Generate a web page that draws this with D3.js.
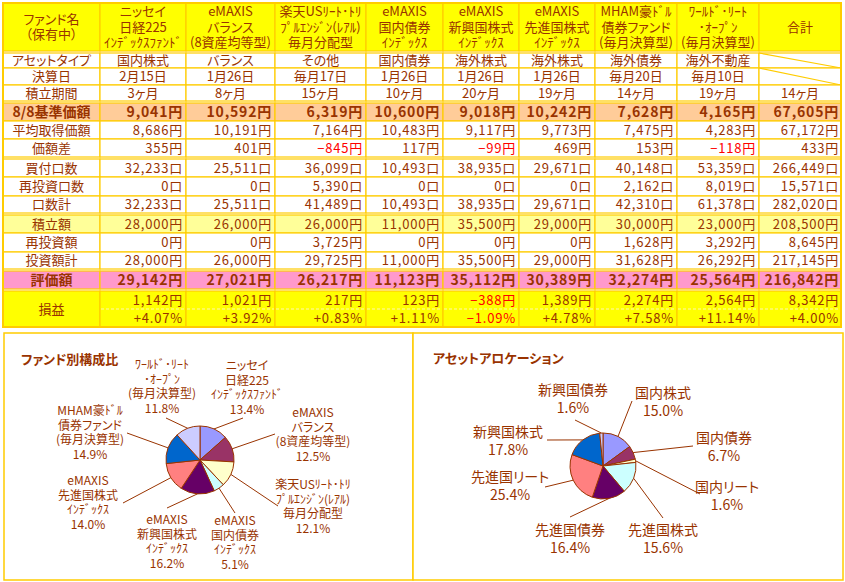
<!DOCTYPE html>
<html>
<head>
<meta charset="utf-8">
<script src="https://cdn.jsdelivr.net/npm/d3@7"></script>
<style>
body { margin: 0; background: #fff; }
svg text { font-family: "Noto Sans CJK JP", "Noto Sans", sans-serif; font-feature-settings: "palt"; fill: #993300; }
</style>
</head>
<body>
<div id="chart"></div>
<script>
// ポートフォリオ集計表 + 構成比パイ2つ

// ---- データ ----
var fundNames = [
  'ニッセイ\n日経225\nｲﾝﾃﾞｯｸｽﾌｧﾝﾄﾞ',
  'eMAXIS\nバランス\n(8資産均等型)',
  '楽天USﾘｰﾄ･ﾄﾘ\nﾌﾟﾙｴﾝｼﾞﾝ(ﾚｱﾙ)\n毎月分配型',
  'eMAXIS\n国内債券\nｲﾝﾃﾞｯｸｽ',
  'eMAXIS\n新興国株式\nｲﾝﾃﾞｯｸｽ',
  'eMAXIS\n先進国株式\nｲﾝﾃﾞｯｸｽ',
  'MHAM豪ﾄﾞﾙ\n債券ファンド\n(毎月決算型)',
  'ﾜｰﾙﾄﾞ･ﾘｰﾄ\n･ｵｰﾌﾟﾝ\n(毎月決算型)'
]
var assetTypes = ['国内株式', 'バランス', 'その他', '国内債券', '海外株式', '海外株式', '海外債券', '海外不動産']
var settleDates = ['2月15日', '1月26日', '毎月17日', '1月26日', '1月26日', '1月26日', '毎月20日', '毎月10日']
var months = [3, 8, 15, 10, 20, 19, 14, 19]
var navPrice = [9041, 10592, 6319, 10600, 9018, 10242, 7628, 4165]
var avgCost = [8686, 10191, 7164, 10483, 9117, 9773, 7475, 4283]
var priceDiff = [355, 401, -845, 117, -99, 469, 153, -118]
var buyUnits = [32233, 25511, 36099, 10493, 38935, 29671, 40148, 53359]
var reinvUnits = [0, 0, 5390, 0, 0, 0, 2162, 8019]
var totalUnits = [32233, 25511, 41489, 10493, 38935, 29671, 42310, 61378]
var contrib = [28000, 26000, 26000, 11000, 35500, 29000, 30000, 23000]
var reinvAmount = [0, 0, 3725, 0, 0, 0, 1628, 3292]
var investTotal = [28000, 26000, 29725, 11000, 35500, 29000, 31628, 26292]
var valuation = [29142, 27021, 26217, 11123, 35112, 30389, 32274, 25564]
var profit = [1142, 1021, 217, 123, -388, 1389, 2274, 2564]
var profitPct = [4.07, 3.92, 0.83, 1.11, -1.09, 4.78, 7.58, 11.14]

// 合計列
var totals = {
  months: 14, navPrice: 67605, avgCost: 67172, priceDiff: 433,
  buyUnits: 266449, reinvUnits: 15571, totalUnits: 282020,
  contrib: 208500, reinvAmount: 8645, investTotal: 217145,
  valuation: 216842, profit: 8342, profitPct: 4.00
}

// アセットアロケーション
var assetClasses = ['国内株式', '国内債券', '国内リート', '先進国株式', '先進国債券', '先進国リート', '新興国株式', '新興国債券']
var assetShare = [15.0, 6.7, 1.6, 15.6, 16.4, 25.4, 17.8, 1.6]

var sliceColors = ['#9999FF', '#993366', '#FFFFCC', '#CCFFFF', '#660066', '#FF8080', '#0066CC', '#CCCCFF']

// ---- レイアウト ----
var width = 845, height = 582
var gold = '#FFCC00'
var colEdges = [3, 100, 186, 275, 366, 443, 519, 595, 677, 759, 841]

var svg = d3.select('#chart').append('svg')
  .attr('width', width)
  .attr('height', height)
svg.append('rect').attr('width', width).attr('height', height).attr('fill', '#fff')

var yen = function(v) { return (v < 0 ? '−' + d3.format(',')(-v) : d3.format(',')(v)) + '円' }
var kuchi = function(v) { return d3.format(',')(v) + '口' }
var pct = function(v) { return (v < 0 ? '−' + d3.format('.2f')(-v) : '+' + d3.format('.2f')(v)) + '%' }

var rows = [
  { y: [53, 68], label: 'アセットタイプ', vals: assetTypes, center: true, diag: true },
  { y: [68, 85], label: '決算日', vals: settleDates, center: true, diag: true },
  { y: [85, 101], label: '積立期間', vals: months.map(function(m) { return m + 'ヶ月' }), total: totals.months + 'ヶ月', center: true },
  { y: [103, 121], label: '8/8基準価額', vals: navPrice.map(yen), total: yen(totals.navPrice), bold: true, bg: '#FFCC99' },
  { y: [121, 139], label: '平均取得価額', vals: avgCost.map(yen), total: yen(totals.avgCost) },
  { y: [139, 157], label: '価額差', vals: priceDiff.map(yen), raw: priceDiff, total: yen(totals.priceDiff) },
  { y: [159, 177], label: '買付口数', vals: buyUnits.map(kuchi), total: kuchi(totals.buyUnits) },
  { y: [177, 196], label: '再投資口数', vals: reinvUnits.map(kuchi), total: kuchi(totals.reinvUnits) },
  { y: [196, 213], label: '口数計', vals: totalUnits.map(kuchi), total: kuchi(totals.totalUnits) },
  { y: [215, 233], label: '積立額', vals: contrib.map(yen), total: yen(totals.contrib), bg: '#FFFF99' },
  { y: [233, 252], label: '再投資額', vals: reinvAmount.map(yen), total: yen(totals.reinvAmount) },
  { y: [252, 269], label: '投資額計', vals: investTotal.map(yen), total: yen(totals.investTotal) },
  { y: [271, 289], label: '評価額', vals: valuation.map(yen), total: yen(totals.valuation), bold: true, bg: '#FF99CC' }
]

var table = svg.append('g').attr('class', 'table')

// ヘッダー
var headY = [3, 51]
var headCells = [['ファンド名', '（保有中）']]
  .concat(fundNames.map(function(n) { return n.split('\n') }))
  .concat([['合計']])

headCells.forEach(function(lines, i) {
  var x0 = colEdges[i], x1 = colEdges[i + 1]
  table.append('rect')
    .attr('x', x0).attr('y', headY[0]).attr('width', x1 - x0).attr('height', headY[1] - headY[0])
    .attr('fill', '#FFFF00').attr('stroke', gold).attr('stroke-width', 1.2)
  var lh = 15.5
  var mid = (headY[0] + headY[1]) / 2
  var t = table.append('text')
    .attr('text-anchor', 'middle')
    .attr('font-size', 13)
  lines.forEach(function(l, k) {
    t.append('tspan')
      .attr('x', (x0 + x1) / 2)
      .attr('y', mid + (k - (lines.length - 1) / 2) * lh + 4.5)
      .text(l)
  })
})

// 本体の行
function cell(x0, x1, y0, y1, bg) {
  table.append('rect')
    .attr('x', x0).attr('y', y0).attr('width', x1 - x0).attr('height', y1 - y0)
    .attr('fill', bg || '#fff').attr('stroke', gold).attr('stroke-width', 1.2)
}

rows.forEach(function(r) {
  var y0 = r.y[0], y1 = r.y[1]
  var base = (y0 + y1) / 2 + (r.bold ? 5 : 4.5)
  var fs = r.bold ? 14 : 13
  var fw = r.bold ? 'bold' : 'normal'
  var ls = r.center ? 0 : 0.8
  cell(colEdges[0], colEdges[1], y0, y1, r.bg)
  table.append('text')
    .attr('x', (colEdges[0] + colEdges[1]) / 2).attr('y', base)
    .attr('text-anchor', 'middle').attr('font-size', fs).attr('font-weight', fw)
    .text(r.label)
  r.vals.forEach(function(v, i) {
    var x0 = colEdges[i + 1], x1 = colEdges[i + 2]
    cell(x0, x1, y0, y1, r.bg)
    table.append('text')
      .attr('x', r.center ? (x0 + x1) / 2 : x1 - 3).attr('y', base)
      .attr('text-anchor', r.center ? 'middle' : 'end')
      .attr('font-size', fs).attr('font-weight', fw)
      .attr('letter-spacing', ls)
      .style('fill', r.raw && r.raw[i] < 0 ? '#FF0000' : null)
      .text(v)
  })
  var tx0 = colEdges[9], tx1 = colEdges[10]
  cell(tx0, tx1, y0, y1, r.bg)
  if (r.diag) {
    table.append('line')
      .attr('x1', tx0).attr('y1', y0).attr('x2', tx1).attr('y2', y1)
      .attr('stroke', gold).attr('stroke-width', 1.2)
  } else {
    table.append('text')
      .attr('x', r.center ? (tx0 + tx1) / 2 : tx1 - 2).attr('y', base)
      .attr('text-anchor', r.center ? 'middle' : 'end')
      .attr('font-size', fs).attr('font-weight', fw)
      .attr('letter-spacing', ls)
      .text(r.total)
  }
})

// 損益（2段）
var plY = [291, 327], plMid = 309
cell(colEdges[0], colEdges[1], plY[0], plY[1], '#FFFF00')
table.append('text')
  .attr('x', (colEdges[0] + colEdges[1]) / 2).attr('y', plMid + 4.5)
  .attr('text-anchor', 'middle').attr('font-size', 13)
  .text('損益')
profit.concat([totals.profit]).forEach(function(v, i) {
  var x0 = colEdges[i + 1], x1 = colEdges[i + 2]
  var p = i < 8 ? profitPct[i] : totals.profitPct
  cell(x0, x1, plY[0], plY[1], '#FFFF00')
  table.append('line')
    .attr('x1', x0 + 1).attr('x2', x1 - 1).attr('y1', plMid).attr('y2', plMid)
    .attr('stroke', '#FFF7B0').attr('stroke-width', 1).attr('stroke-dasharray', '3,2')
  var pad = i < 8 ? 3 : 2
  table.append('text')
    .attr('x', x1 - pad).attr('y', (plY[0] + plMid) / 2 + 4.5)
    .attr('text-anchor', 'end').attr('font-size', 13).attr('letter-spacing', 0.8)
    .style('fill', v < 0 ? '#FF0000' : null)
    .text(yen(v))
  table.append('text')
    .attr('x', x1 - pad).attr('y', (plMid + plY[1]) / 2 + 4.5)
    .attr('text-anchor', 'end').attr('font-size', 13).attr('letter-spacing', 0.8)
    .style('fill', p < 0 ? '#FF0000' : null)
    .text(pct(p))
})

// 外枠
table.append('rect')
  .attr('x', colEdges[0]).attr('y', headY[0])
  .attr('width', colEdges[10] - colEdges[0]).attr('height', plY[1] - headY[0])
  .attr('fill', 'none').attr('stroke', gold).attr('stroke-width', 2)

// ---- パイチャート ----
var panels = [
  { x: 4, y: 333, w: 409, h: 247 },
  { x: 413, y: 333, w: 430, h: 247 }
]
panels.forEach(function(p) {
  svg.append('rect')
    .attr('x', p.x).attr('y', p.y).attr('width', p.w).attr('height', p.h)
    .attr('fill', '#fff').attr('stroke', gold).attr('stroke-width', 1.5)
})

svg.append('text').attr('x', 21).attr('y', 364)
  .attr('font-size', 13).attr('font-weight', 'bold').text('ファンド別構成比')
svg.append('text').attr('x', 433).attr('y', 363)
  .attr('font-size', 13).attr('font-weight', 'bold').text('アセットアロケーション')

// ラベル位置: [文字x, 1行目y, 引出線終点x, 終点y]（中心からの相対）
var fundLabelPos = [
  [47, -90, 43, -42], [113, -43, 75, -26], [113, 29, 78, 46], [35, 65, 35, 53],
  [-33, 64, -33, 48], [-112, 25, -77, 43], [-110, -45, -73, -27], [-38, -91, -34, -42]
]
var assetLabelPos = [
  [60, -68, 29, -65], [121, -23, 90, -20], [124, 26, 97, 28], [60, 69, 60, 52],
  [-33, 69, -33, 51], [-93, 16, -58, 21], [-95, -29, -56, -26], [-30, -71, -28, -46]
]

function drawPie(cx, cy, r, values, labels, pctText, pos, fs, lh) {
  var g = svg.append('g').attr('transform', 'translate(' + cx + ',' + cy + ')')
  var arcs = d3.pie().sort(null).value(function(d) { return d })(values)
  var arc = d3.arc().innerRadius(0).outerRadius(r)
  var edge = d3.arc().innerRadius(r).outerRadius(r)

  g.selectAll('path.slice')
    .data(arcs)
    .enter()
    .append('path')
    .attr('class', 'slice')
    .attr('d', arc)
    .attr('fill', function(d, i) { return sliceColors[i] })
    .attr('stroke', '#993300')
    .attr('stroke-width', 1)

  g.selectAll('line.leader')
    .data(arcs)
    .enter()
    .append('line')
    .attr('class', 'leader')
    .attr('x1', function(d) { return edge.centroid(d)[0] })
    .attr('y1', function(d) { return edge.centroid(d)[1] })
    .attr('x2', function(d, i) { return pos[i][2] })
    .attr('y2', function(d, i) { return pos[i][3] })
    .attr('stroke', '#993300')
    .attr('stroke-width', 1)

  arcs.forEach(function(d, i) {
    var lines = labels[i].split('\n').concat([pctText(d, i)])
    var t = g.append('text').attr('text-anchor', 'middle').attr('font-size', fs)
    lines.forEach(function(l, k) {
      t.append('tspan').attr('x', pos[i][0]).attr('y', pos[i][1] + k * lh).text(l)
    })
  })
}

drawPie(200, 460, 34, valuation, fundNames, function(d) {
  return d3.format('.1f')((d.endAngle - d.startAngle) / (2 * Math.PI) * 100) + '%'
}, fundLabelPos, 12, 14.5)

drawPie(603, 466, 33, assetShare, assetClasses, function(d, i) {
  return d3.format('.1f')(assetShare[i]) + '%'
}, assetLabelPos, 14, 17.5)
</script>
</body>
</html>
